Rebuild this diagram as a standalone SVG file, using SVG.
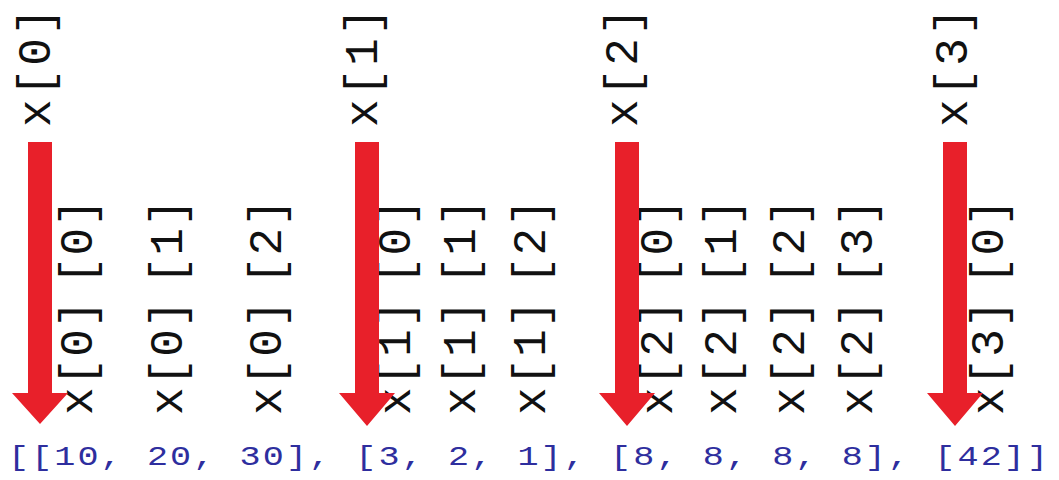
<svg xmlns="http://www.w3.org/2000/svg" width="1059" height="480" viewBox="0 0 1059 480">
<style>
.lbl{font-family:"Liberation Mono","DejaVu Sans Mono",monospace;font-size:46px;letter-spacing:3px;fill:#111;dominant-baseline:central}
.el{letter-spacing:1.5px}
.res{font-family:"Liberation Mono","DejaVu Sans Mono",monospace;font-size:27px;fill:#2e2e9e}
.arr{fill:#e8202a}
</style>
<rect width="1059" height="480" fill="#fff"/>
<g id="top-labels">
<g id="t0"><text class="lbl" transform="translate(38,127) rotate(-90)">x[0]</text></g>
<g id="t1"><text class="lbl" transform="translate(365,127) rotate(-90)">x[1]</text></g>
<g id="t2"><text class="lbl" transform="translate(625,127) rotate(-90)">x[2]</text></g>
<g id="t3"><text class="lbl" transform="translate(955,127) rotate(-90)">x[3]</text></g>
</g>
<g id="elements">
<g id="e00"><text class="lbl el" transform="translate(80,415) rotate(-90)">x[0]<tspan dx="14">[0]</tspan></text></g>
<g id="e01"><text class="lbl el" transform="translate(170,415) rotate(-90)">x[0]<tspan dx="14">[1]</tspan></text></g>
<g id="e02"><text class="lbl el" transform="translate(269,415) rotate(-90)">x[0]<tspan dx="14">[2]</tspan></text></g>
<g id="e10"><text class="lbl el" transform="translate(398,415) rotate(-90)">x[1]<tspan dx="14">[0]</tspan></text></g>
<g id="e11"><text class="lbl el" transform="translate(463,415) rotate(-90)">x[1]<tspan dx="14">[1]</tspan></text></g>
<g id="e12"><text class="lbl el" transform="translate(533,415) rotate(-90)">x[1]<tspan dx="14">[2]</tspan></text></g>
<g id="e20"><text class="lbl el" transform="translate(660,415) rotate(-90)">x[2]<tspan dx="14">[0]</tspan></text></g>
<g id="e21"><text class="lbl el" transform="translate(724,415) rotate(-90)">x[2]<tspan dx="14">[1]</tspan></text></g>
<g id="e22"><text class="lbl el" transform="translate(792,415) rotate(-90)">x[2]<tspan dx="14">[2]</tspan></text></g>
<g id="e23"><text class="lbl el" transform="translate(860,415) rotate(-90)">x[2]<tspan dx="14">[3]</tspan></text></g>
<g id="e30"><text class="lbl el" transform="translate(991,415) rotate(-90)">x[3]<tspan dx="14">[0]</tspan></text></g>
</g>
<g id="connectors">
<path class="arr" d="M28,142 H52 V393 H68 L40,424 L12,393 H28 Z"/>
<path class="arr" d="M355,142 H379 V393 H395 L367,426 L339,393 H355 Z"/>
<path class="arr" d="M615,142 H639 V393 H655 L627,426 L599,393 H615 Z"/>
<path class="arr" d="M943,142 H967 V393 H983 L955,426 L927,393 H943 Z"/>
</g>
<g id="result">
<text class="res" transform="translate(8,465) scale(1.3,1)" x="0" y="0" textLength="800" lengthAdjust="spacing">[[10, 20, 30], [3, 2, 1], [8, 8, 8, 8], [42]]</text>
</g>
</svg>
